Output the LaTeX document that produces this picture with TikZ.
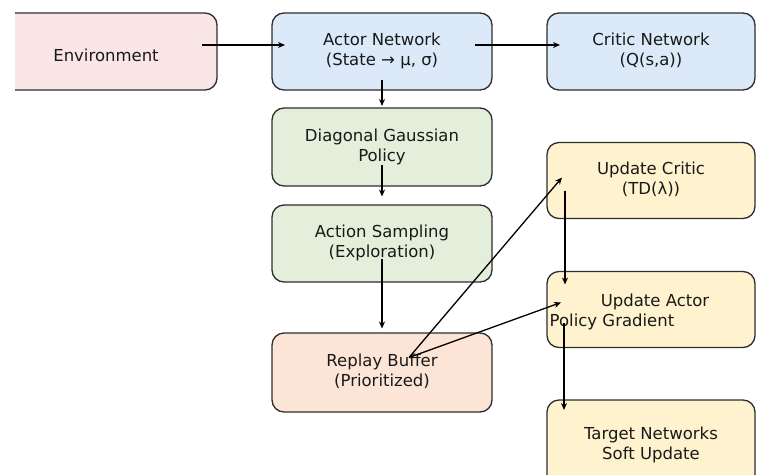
\documentclass[tikz,border=0pt]{standalone}
\usepackage{fontspec}
\setmainfont{DejaVu Sans}
\usetikzlibrary{arrows.meta,calc}
\definecolor{envfill}{RGB}{250,230,230}
\definecolor{bluefill}{RGB}{219,233,248}
\definecolor{greenfill}{RGB}{227,239,218}
\definecolor{peachfill}{RGB}{252,228,214}
\definecolor{yellowfill}{RGB}{255,242,206}
\definecolor{edge}{RGB}{45,45,45}
\definecolor{txt}{RGB}{25,25,25}
\newcommand{\twol}[3][-4pt]{\raisebox{#1}{\begin{tabular}{@{}c@{}}#2\\#3\end{tabular}}}
\tikzset{
  box/.style={draw=edge, line width=1.3pt, rounded corners=12pt, inner sep=0pt,
    align=center, text=txt, font=\fontsize{16.5}{20}\selectfont},
  lbl/.style={inner sep=0pt, text=txt, font=\fontsize{16.5}{20}\selectfont},
  arr/.style={draw=black, line width=1.3pt, -{Stealth[length=7pt,width=6pt]}}
}
\begin{document}
\begin{tikzpicture}[x=1pt,y=-1pt]
\path[use as bounding box] (0,0) rectangle (757,474);
\begin{scope}
\clip (15,0) rectangle (757,474);
\node[box, fill=envfill, minimum width=280pt, minimum height=77pt] (env) at (77,51.5) {};
\end{scope}
\begin{scope}
\clip (0,0) rectangle (757,474);
\node[lbl] (envtxt) at (106,55) {Environment};
\node[box, fill=bluefill, minimum width=220pt, minimum height=77pt] (actor) at (382,51.5) {\twol[-3pt]{Actor Network}{(State → μ, σ)}};
\node[box, fill=bluefill, minimum width=208pt, minimum height=77pt] (critic) at (651,51.5) {\twol[-3pt]{Critic Network}{(Q(s,a))}};
\node[box, fill=greenfill, minimum width=220pt, minimum height=78pt] (diag) at (382,147) {\twol[-5pt]{Diagonal Gaussian}{Policy}};
\node[box, fill=greenfill, minimum width=220pt, minimum height=77pt] (action) at (382,243.5) {\twol[-4pt]{Action Sampling}{(Exploration)}};
\node[box, fill=peachfill, minimum width=220pt, minimum height=79pt] (replay) at (382,372.5) {\twol[-4pt]{Replay Buffer}{(Prioritized)}};
\node[box, fill=yellowfill, minimum width=208pt, minimum height=76pt] (ucritic) at (651,180.5) {\twol[-2pt]{Update Critic}{(TD(λ))}};
\node[box, fill=yellowfill, minimum width=208pt, minimum height=76pt] (uactor) at (651,309.5) {};
\node[lbl] (uactorA) at (655,302) {Update Actor};
\node[lbl] (uactorB) at (612,322) {Policy Gradient};
\node[box, fill=yellowfill, minimum width=208pt, minimum height=90pt] (target) at (651,445) {\twol[3pt]{Target Networks}{Soft Update}};
% connectors
\draw[arr] ($(env.center)+(125,-6.5)$) -- ($(actor.center)+(-97,-6.5)$);
\draw[arr] ($(actor.center)+(93,-6.5)$) -- ($(critic.center)+(-91,-6.5)$);
\draw[arr] ($(actor.center)+(0,28)$) -- ($(diag.center)+(0,-41)$);
\draw[arr] ($(diag.center)+(0,18)$) -- ($(action.center)+(0,-47)$);
\draw[arr] ($(action.center)+(0,15)$) -- ($(replay.center)+(0,-44)$);
\draw[arr] ($(replay.center)+(27,-15)$) -- ($(ucritic.center)+(-89,-3)$);
\draw[arr] ($(replay.center)+(27,-15)$) -- ($(uactor.center)+(-90,-7)$);
\draw[arr] ($(ucritic.center)+(-86,10)$) -- ($(uactor.center)+(-86,-25)$);
\draw[arr] ($(uactor.center)+(-87,13)$) -- ($(target.center)+(-87,-35)$);
\end{scope}
\end{tikzpicture}
\end{document}
